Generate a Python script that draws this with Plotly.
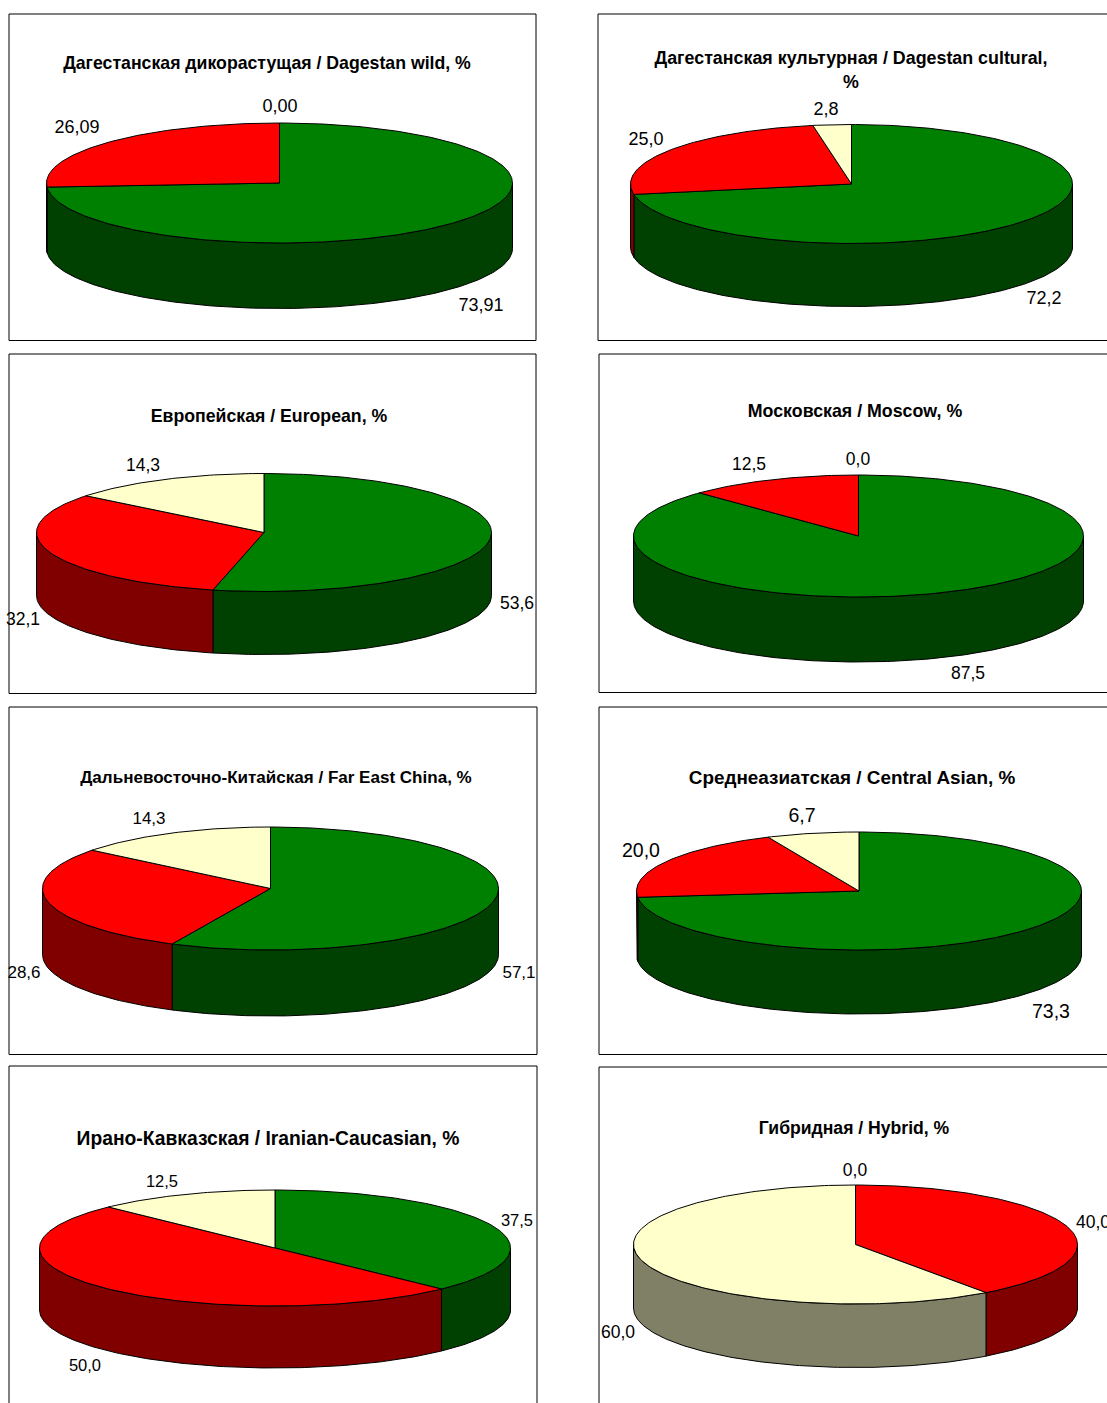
import numpy as np
import plotly.graph_objects as go

W, H = 1107, 1403

# ---- data ----
titles = [
    "Дагестанская дикорастущая / Dagestan wild, %",
    "Дагестанская культурная / Dagestan cultural,<br>%",
    "Европейская / European, %",
    "Московская / Moscow, %",
    "Дальневосточно-Китайская / Far East China, %",
    "Среднеазиатская / Central Asian, %",
    "Ирано-Кавказская / Iranian-Caucasian, %",
    "Гибридная / Hybrid, %",
]
green_values = [73.91, 72.2, 53.6, 87.5, 57.1, 73.3, 37.5, 0.0]
red_values = [26.09, 25.0, 32.1, 12.5, 28.6, 20.0, 50.0, 40.0]
cream_values = [0.00, 2.8, 14.3, 0.0, 14.3, 6.7, 12.5, 60.0]
decimals = [2, 1, 1, 1, 1, 1, 1, 1]

# ---- layout (page pixels) ----
frames = [(9, 14, 536, 340), (598, 14, 1120, 340), (9, 354, 536, 693), (599, 354, 1120, 692),
          (9, 707, 537, 1054), (599, 707, 1120, 1054), (9, 1066, 537, 1420), (599, 1067, 1120, 1420)]
pies = [(279.5, 183, 233, 60, 65.5), (851.5, 184, 221, 59.5, 63), (264, 532.5, 227.5, 59, 63), (858.5, 536, 225, 61, 65),
        (270.5, 888.5, 228, 61.5, 66), (859, 891, 222.5, 59, 64), (275, 1248, 235.5, 58, 62), (855.5, 1244.5, 222, 59.5, 63.5)]
title_pos = [(267, 65), (851, 71.5), (269, 418), (855, 413), (276, 779), (852, 779), (268, 1140.5), (854, 1130)]
title_size = [17.7, 17.85, 17.7, 17.8, 17.05, 18.9, 19.3, 17.6]
# label centres, in the order green, red, cream
label_pos = [
    [(481, 306), (77, 128), (280, 107)],
    [(1044, 299), (646, 140), (826, 110)],
    [(517, 605), (23, 621), (143, 467)],
    [(968, 675), (749, 466), (858, 461)],
    [(519, 974), (24, 974), (149, 820)],
    [(1051, 1013), (641, 852.5), (802, 817)],
    [(517, 1221.5), (85, 1366.5), (162, 1182.5)],
    [(855, 1172), (1093, 1224), (618, 1334)],
]
label_size = [18, 18, 17.5, 17.5, 17, 19.5, 16.5, 17.5]

top_colors = ["#008000", "#ff0000", "#ffffcc"]
side_colors = ["#004000", "#800000", "#808066"]
FONT = "Liberation Sans, Arial, sans-serif"

fig = go.Figure()
layout = dict(width=W, height=H, margin=dict(l=0, r=0, t=0, b=0), autosize=False,
              paper_bgcolor="white", plot_bgcolor="rgba(0,0,0,0)", showlegend=False, shapes=[])


def arc(p, a, b):
    cx, cy, rx, ry, _ = p
    n = max(2, int(abs(b - a) / np.radians(1)) + 2)
    t = np.linspace(a, b, n)
    return cx + rx * np.sin(t), cy - ry * np.cos(t)


for i, (frame, pie) in enumerate(zip(frames, pies)):
    x0, y0, x1, y1 = frame
    k = "" if i == 0 else str(i + 1)
    xa, ya = f"x{k}", f"y{k}"
    x1c, y1c = min(x1, W), min(y1, H)
    layout[f"xaxis{k}"] = dict(domain=[x0 / W, x1c / W], range=[x0, x1c], visible=False, fixedrange=True, anchor=ya)
    layout[f"yaxis{k}"] = dict(domain=[1 - y1c / H, 1 - y0 / H], range=[y1c, y0], visible=False, fixedrange=True, anchor=xa)
    layout["shapes"].append(dict(type="rect", xref="paper", yref="paper",
                                 x0=x0 / W, x1=x1 / W, y0=1 - (y1 + .5) / H, y1=1 - y0 / H,
                                 line=dict(color="#000000", width=1), fillcolor="rgba(0,0,0,0)", layer="below"))

    vals = [green_values[i], red_values[i], cream_values[i]]
    total = sum(vals)
    edges = 2 * np.pi * np.cumsum([0] + vals) / total
    cx, cy, rx, ry, d = pie

    # walls: only the front half of the rim is visible
    for j in range(3):
        a, b = max(edges[j], np.pi / 2), min(edges[j + 1], 3 * np.pi / 2)
        if vals[j] <= 0 or b <= a:
            continue
        ex, ey = arc(pie, a, b)
        fig.add_trace(go.Scatter(x=np.r_[ex, ex[::-1], ex[0]], y=np.r_[ey, ey[::-1] + d, ey[0]],
                                 xaxis=xa, yaxis=ya, mode="lines", fill="toself", fillcolor=side_colors[j],
                                 line=dict(color="black", width=1), hoverinfo="skip"))
    # top sectors
    for j in range(3):
        if vals[j] <= 0:
            continue
        ex, ey = arc(pie, edges[j], edges[j + 1])
        fig.add_trace(go.Scatter(x=np.r_[cx, ex, cx], y=np.r_[cy, ey, cy],
                                 xaxis=xa, yaxis=ya, mode="lines", fill="toself", fillcolor=top_colors[j],
                                 line=dict(color="black", width=1), hoverinfo="skip"))
    # data labels
    fmt = f"{{:.{decimals[i]}f}}"
    fig.add_trace(go.Scatter(x=[q[0] for q in label_pos[i]], y=[q[1] for q in label_pos[i]],
                             text=[fmt.format(v).replace(".", ",") for v in vals],
                             xaxis=xa, yaxis=ya, mode="text", textposition="middle center", cliponaxis=False,
                             textfont=dict(family=FONT, size=label_size[i], color="black"), hoverinfo="skip"))
    # panel title
    fig.add_trace(go.Scatter(x=[title_pos[i][0]], y=[title_pos[i][1]], text=[f"<b>{titles[i]}</b>"],
                             xaxis=xa, yaxis=ya, mode="text", textposition="middle center", cliponaxis=False,
                             textfont=dict(family=FONT, size=title_size[i], color="black"), hoverinfo="skip"))

fig.update_layout(**layout)
fig.write_html("out.html", config=dict(displayModeBar=False),
               post_script="document.body.style.margin='0';document.body.style.overflow='hidden';")
